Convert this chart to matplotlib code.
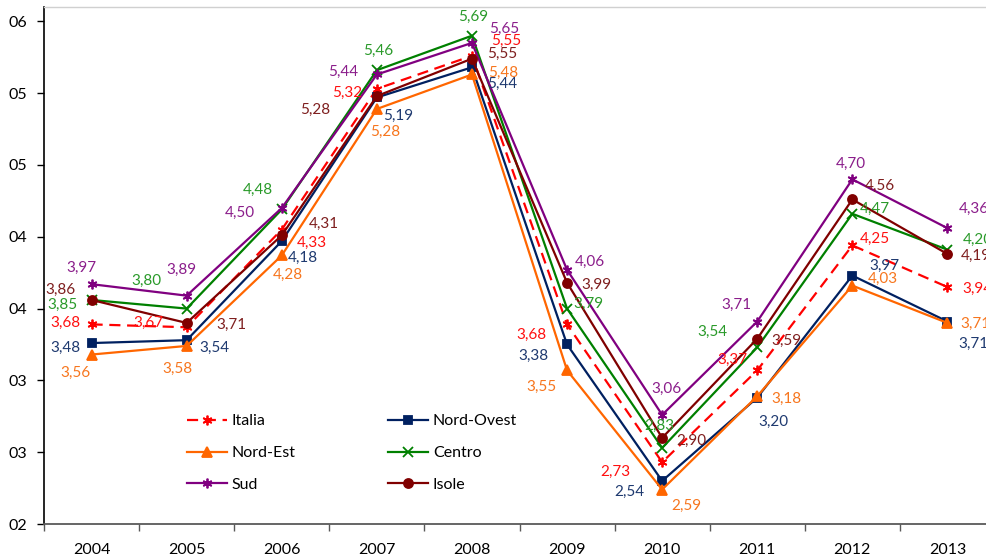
import matplotlib
matplotlib.use('Agg')
import matplotlib.pyplot as plt
from matplotlib.ticker import FixedLocator

plt.rcParams['font.family'] = ['Lato', 'DejaVu Sans']

# --- dati ---
anni = ['2004', '2005', '2006', '2007', '2008', '2009', '2010', '2011', '2012', '2013']

# posizioni delle linee (scala dell'asse)
italia_pos = [3.39, 3.37, 4.05, 5.03, 5.26, 3.39, 2.43, 3.07, 3.94, 3.65]
nord_ovest_pos = [3.26, 3.28, 3.97, 4.97, 5.18, 3.25, 2.30, 2.88, 3.73, 3.41]
nord_est_pos = [3.18, 3.24, 3.87, 4.89, 5.13, 3.07, 2.24, 2.89, 3.66, 3.40]
centro_pos = [3.56, 3.50, 4.19, 5.16, 5.40, 3.50, 2.53, 3.23, 4.16, 3.91]
sud_pos = [3.67, 3.59, 4.20, 5.13, 5.35, 3.77, 2.76, 3.41, 4.40, 4.06]
isole_pos = [3.56, 3.40, 4.01, 4.98, 5.24, 3.68, 2.60, 3.29, 4.26, 3.88]

# valori riportati nelle etichette
italia = [3.68, 3.67, 4.33, 5.32, 5.55, 3.68, 2.73, 3.37, 4.25, 3.94]
nord_ovest = [3.48, 3.54, 4.18, 5.19, 5.44, 3.38, 2.54, 3.20, 3.97, 3.71]
nord_est = [3.56, 3.58, 4.28, 5.28, 5.48, 3.55, 2.59, 3.18, 4.03, 3.71]
centro = [3.85, 3.80, 4.48, 5.46, 5.69, 3.79, 2.83, 3.54, 4.47, 4.20]
sud = [3.97, 3.89, 4.50, 5.44, 5.65, 4.06, 3.06, 3.71, 4.70, 4.36]
isole = [3.86, 3.71, 4.31, 5.28, 5.55, 3.99, 2.90, 3.59, 4.56, 4.19]

y_ticks = [2.0, 2.5, 3.0, 3.5, 4.0, 4.5, 5.0, 5.5]
y_tick_labels = ['02', '03', '03', '04', '04', '05', '05', '06']

# --- stile serie: (nome, posizioni, valori, colore linea, colore etichetta, marker, size, linestyle)
asterisco = (6, 2, 0)
serie = [
    ('Italia', italia_pos, italia, '#FF0000', '#FF1010', asterisco, 7, (0, (5, 3))),
    ('Nord-Ovest', nord_ovest_pos, nord_ovest, '#002060', '#1F3A70', 's', 6, '-'),
    ('Nord-Est', nord_est_pos, nord_est, '#FF6600', '#F7761E', '^', 6.5, '-'),
    ('Centro', centro_pos, centro, '#008000', '#2A9A2A', 'x', 6.5, '-'),
    ('Sud', sud_pos, sud, '#800080', '#8B1E8B', asterisco, 7, '-'),
    ('Isole', isole_pos, isole, '#800000', '#7F1F1F', 'o', 6.5, '-'),
]

# spostamento etichette in pixel (dx, dy verso il basso)
offset = {
    'Italia': [(-26, -2), (-38, -5), (30, 12), (-30, 3), (34, -16), (-36, 10), (-47, 9), (-25, -11), (22, -8), (30, 1)],
    'Nord-Ovest': [(-26, 4), (28, 7), (21, 16), (21, 17), (30, 16), (-34, 10), (-33, 10), (16, 23), (32, -11), (26, 21)],
    'Nord-Est': [(-16, 17), (-9, 22), (6, 18), (8, 22), (31, -3), (-26, 16), (24, 15), (29, 2), (30, -8), (28, 0)],
    'Centro': [(-29, 4), (-40, -29), (-24, -21), (1, -20), (1, -20), (21, -6), (-3, -23), (-45, -16), (22, -6), (30, -11)],
    'Sud': [(-10, -17), (-5, -27), (-42, 4), (-34, -4), (32, -15), (23, -9), (4, -27), (-21, -18), (-2, -16), (26, -20)],
    'Isole': [(-31, -11), (45, 1), (42, -12), (-62, 13), (30, -6), (29, 1), (29, 2), (29, 1), (27, -15), (28, 1)],
}

fig = plt.figure(figsize=(9.87, 5.59), dpi=100)
ax = fig.add_axes([44 / 987, 35 / 559, 951 / 987, 517 / 559])

x = list(range(len(anni)))
handles = {}
for nome, pos, val, col, col_lbl, mk, ms, ls in serie:
    mfc = col if mk in ('s', '^', 'o') else 'none'
    h, = ax.plot(x, pos, color=col, lw=1.6, linestyle=ls, marker=mk, markersize=ms,
                 markerfacecolor=mfc, markeredgecolor=col, markeredgewidth=1.3,
                 label=nome, clip_on=False)
    handles[nome] = h
    for i, (v, p) in enumerate(zip(val, pos)):
        dx, dy = offset[nome][i]
        ax.annotate(f'{v:.2f}'.replace('.', ','), (i, p), xytext=(dx, -dy - 1),
                    textcoords='offset pixels', ha='center', va='center',
                    fontsize=11, color=col_lbl, annotation_clip=False)

ax.set_xlim(-0.5, len(anni) - 0.5)
ax.set_ylim(2.0, 5.6)

ax.set_yticks(y_ticks)
ax.set_yticklabels(y_tick_labels)
ax.set_xticks(x)
ax.set_xticklabels(anni)
ax.xaxis.set_minor_locator(FixedLocator([i - 0.5 for i in range(len(anni) + 1)]))

ax.tick_params(axis='y', length=5, width=1, pad=7, labelsize=11.5, colors='black')
ax.tick_params(axis='x', which='major', length=0, pad=14, labelsize=11.5)
ax.tick_params(axis='x', which='minor', length=5, width=1, color='#595959')

ax.spines['left'].set_color('black')
ax.spines['left'].set_linewidth(1.2)
ax.spines['bottom'].set_color('#595959')
ax.spines['bottom'].set_linewidth(1.3)
ax.spines['top'].set_color('#D0D0D0')
ax.spines['top'].set_linewidth(1.0)
ax.spines['right'].set_visible(False)

# legenda a due colonne, ordine per righe
ordine = ['Italia', 'Nord-Est', 'Sud', 'Nord-Ovest', 'Centro', 'Isole']
ax.legend([handles[n] for n in ordine], ordine, ncol=2, frameon=False,
          loc='center', bbox_to_anchor=(352 / 987, 1 - 453 / 559),
          bbox_transform=fig.transFigure, fontsize=11.5,
          handlelength=2.5, handletextpad=0.3, columnspacing=5.8,
          labelspacing=1.1, borderpad=0.2)

fig.savefig('out.png', dpi=100)
